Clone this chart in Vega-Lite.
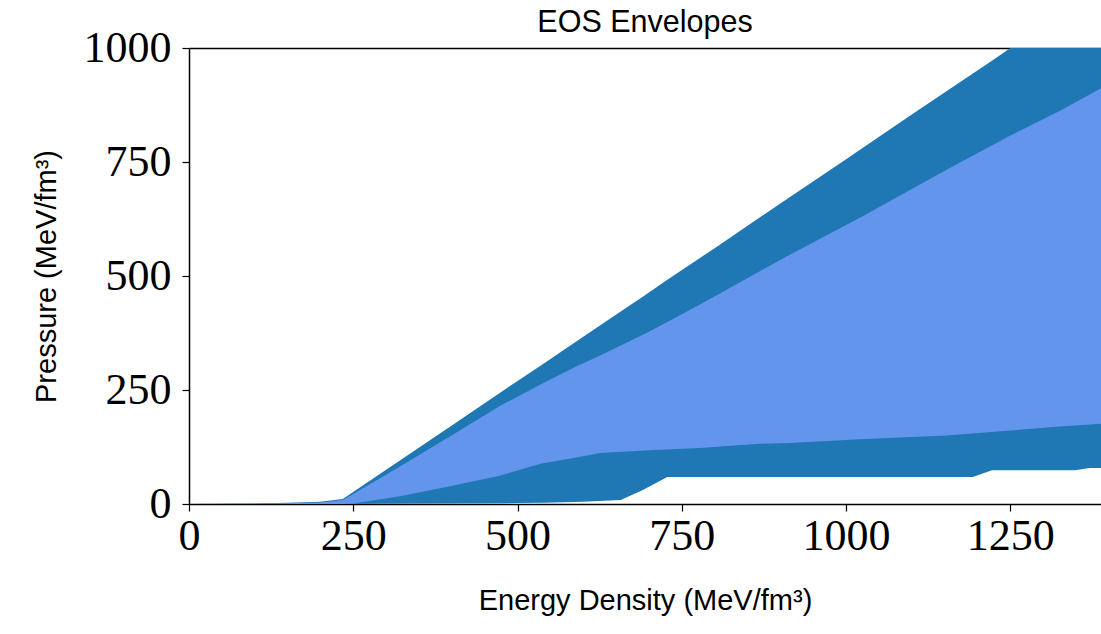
{
  "$schema": "https://vega.github.io/schema/vega-lite/v6.json",
  "width": 912,
  "height": 456,
  "autosize": {"type": "none"},
  "padding": {"left": 189, "top": 48, "right": 0, "bottom": 130},
  "background": "white",
  "title": {"text": "EOS Envelopes", "font": "Liberation Sans", "fontSize": 30.5, "fontWeight": "normal", "color": "black", "anchor": "middle", "offset": -12},
  "config": {"view": {"stroke": null}},
  "layer": [
    {
      "data": {"values": [
        {"e": 0, "lo": 0, "hi": 0},
        {"e": 50, "lo": 0, "hi": 0.3},
        {"e": 100, "lo": 0, "hi": 1},
        {"e": 150, "lo": 0, "hi": 2.5},
        {"e": 200, "lo": 0, "hi": 5},
        {"e": 234, "lo": 0, "hi": 11},
        {"e": 300, "lo": 0.5, "hi": 75},
        {"e": 400, "lo": 1, "hi": 172},
        {"e": 500, "lo": 2, "hi": 270},
        {"e": 540, "lo": 3, "hi": 308},
        {"e": 600, "lo": 5, "hi": 367},
        {"e": 657, "lo": 9, "hi": 422},
        {"e": 690, "lo": 30, "hi": 454},
        {"e": 728, "lo": 59, "hi": 492},
        {"e": 800, "lo": 59, "hi": 561},
        {"e": 900, "lo": 59, "hi": 659},
        {"e": 1000, "lo": 59, "hi": 756},
        {"e": 1100, "lo": 59, "hi": 854},
        {"e": 1193, "lo": 59, "hi": 944},
        {"e": 1222, "lo": 74, "hi": 972},
        {"e": 1250, "lo": 74, "hi": 1000},
        {"e": 1348, "lo": 74, "hi": 1095},
        {"e": 1371, "lo": 79, "hi": 1117},
        {"e": 1388, "lo": 79, "hi": 1134}
      ]},
      "mark": {"type": "area", "color": "#1f77b4", "clip": true, "opacity": 1},
      "encoding": {
        "x": {"field": "e", "type": "quantitative", "scale": {"domain": [0, 1388], "nice": false, "zero": false},
          "axis": {"orient": "bottom", "values": [0, 250, 500, 750, 1000, 1250], "format": "d", "grid": false, "domainColor": "black", "domainWidth": 1.5, "tickColor": "black", "tickWidth": 1.2, "tickSize": 7,
            "labelFont": "Liberation Serif", "labelFontSize": 44, "labelColor": "black", "labelPadding": 3, "labelFlush": false,
            "title": "Energy Density  (MeV/fm³)", "titleFont": "Liberation Sans", "titleFontSize": 29, "titleFontWeight": "normal", "titleColor": "black", "titlePadding": 28}},
        "y": {"field": "lo", "type": "quantitative", "scale": {"domain": [0, 1000], "nice": false},
          "axis": {"values": [0, 250, 500, 750, 1000], "format": "d", "grid": false, "domainColor": "black", "domainWidth": 1.5, "tickColor": "black", "tickWidth": 1.2, "tickSize": 7,
            "labelFont": "Liberation Serif", "labelFontSize": 44, "labelColor": "black", "labelPadding": 11, "labelFlush": false,
            "title": "Pressure  (MeV/fm³)", "titleFont": "Liberation Sans", "titleFontSize": 29, "titleFontWeight": "normal", "titleColor": "black", "titlePadding": 22}},
        "y2": {"field": "hi"}
      }
    },
    {
      "data": {"values": [
        {"e": 0, "lo": 0, "hi": 0},
        {"e": 100, "lo": 0, "hi": 0.5},
        {"e": 150, "lo": 0, "hi": 1.5},
        {"e": 200, "lo": 0, "hi": 3.5},
        {"e": 234, "lo": 0, "hi": 9},
        {"e": 250, "lo": 1, "hi": 22},
        {"e": 321, "lo": 17, "hi": 82},
        {"e": 397, "lo": 39, "hi": 148},
        {"e": 473, "lo": 62, "hi": 215},
        {"e": 535, "lo": 88, "hi": 262},
        {"e": 590, "lo": 102, "hi": 302},
        {"e": 625, "lo": 112, "hi": 325},
        {"e": 700, "lo": 118, "hi": 378},
        {"e": 777, "lo": 123, "hi": 437},
        {"e": 868, "lo": 132, "hi": 510},
        {"e": 915, "lo": 134, "hi": 547},
        {"e": 1021, "lo": 142, "hi": 628},
        {"e": 1153, "lo": 150, "hi": 733},
        {"e": 1250, "lo": 161, "hi": 808},
        {"e": 1325, "lo": 170, "hi": 862},
        {"e": 1388, "lo": 176, "hi": 912}
      ]},
      "mark": {"type": "area", "color": "#6495ED", "clip": true, "opacity": 1},
      "encoding": {
        "x": {"field": "e", "type": "quantitative",
          "axis": {"orient": "top", "labels": false, "ticks": false, "domain": true, "domainColor": "black", "domainWidth": 1.5, "grid": false, "title": null}},
        "y": {"field": "lo", "type": "quantitative"},
        "y2": {"field": "hi"}
      }
    }
  ]
}
